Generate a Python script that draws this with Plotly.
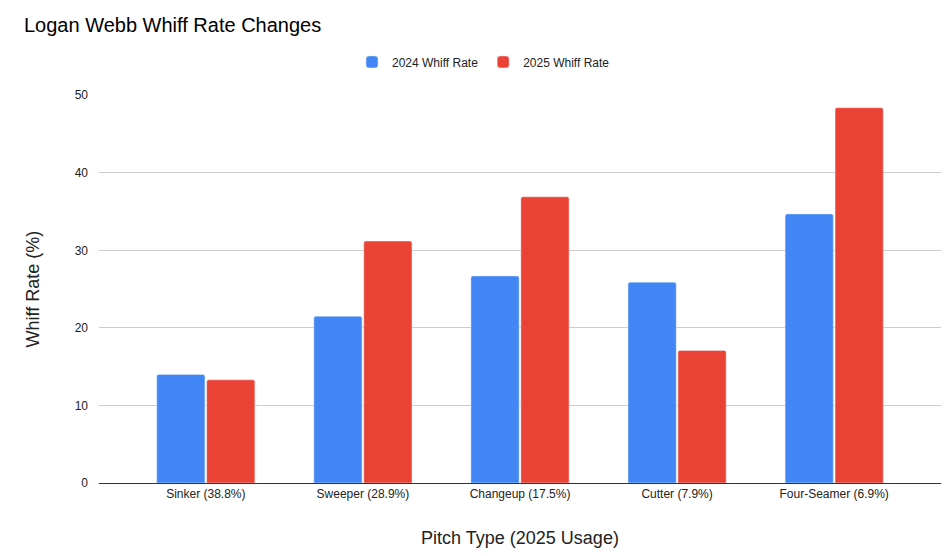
import plotly.graph_objects as go

categories = ["Sinker (38.8%)", "Sweeper (28.9%)", "Changeup (17.5%)", "Cutter (7.9%)", "Four-Seamer (6.9%)"]
whiff_2024 = [14.0, 21.5, 26.7, 25.9, 34.7]
whiff_2025 = [13.3, 31.2, 36.9, 17.1, 48.4]

FONT = "Liberation Sans, Arial, sans-serif"

fig = go.Figure()
fig.add_trace(go.Bar(x=categories, y=whiff_2024, name="2024 Whiff Rate", marker_color="#4285F4"))
fig.add_trace(go.Bar(x=categories, y=whiff_2025, name="2025 Whiff Rate", marker_color="#EA4335"))

fig.update_layout(
    width=951, height=556,
    paper_bgcolor="white", plot_bgcolor="white",
    font=dict(family=FONT, color="#222", size=12),
    title=dict(text="Logan Webb Whiff Rate Changes", x=0.0168, xanchor="left", y=0.969, yanchor="middle",
               font=dict(size=20, color="#000", family=FONT)),
    margin=dict(l=91, r=18, t=85, b=81),
    barmode="group", bargap=0.364, bargroupgap=0.035, barcornerradius=2,
    legend=dict(orientation="h", xref="container", yref="container", x=0.5, xanchor="center",
                y=0.903, yanchor="middle",
                font=dict(size=12, color="#222"), itemwidth=30, traceorder="normal"),
    showlegend=True,
)
fig.update_xaxes(showgrid=False, showline=True, linecolor="#333", linewidth=1,
                 range=[-0.68, 4.68],
                 ticks="", tickfont=dict(size=12, color="#222"),
                 title=dict(text="Pitch Type (2025 Usage)", font=dict(size=18, color="#222"), standoff=30))
fig.update_yaxes(range=[0, 50], dtick=10, showgrid=True, gridcolor="#cccccc", gridwidth=1,
                 zeroline=False, ticks="", tickfont=dict(size=12, color="#222"), ticklabelstandoff=10,
                 title=dict(text="Whiff Rate (%)", font=dict(size=18, color="#222"), standoff=30))

fig.write_html("out.html")
